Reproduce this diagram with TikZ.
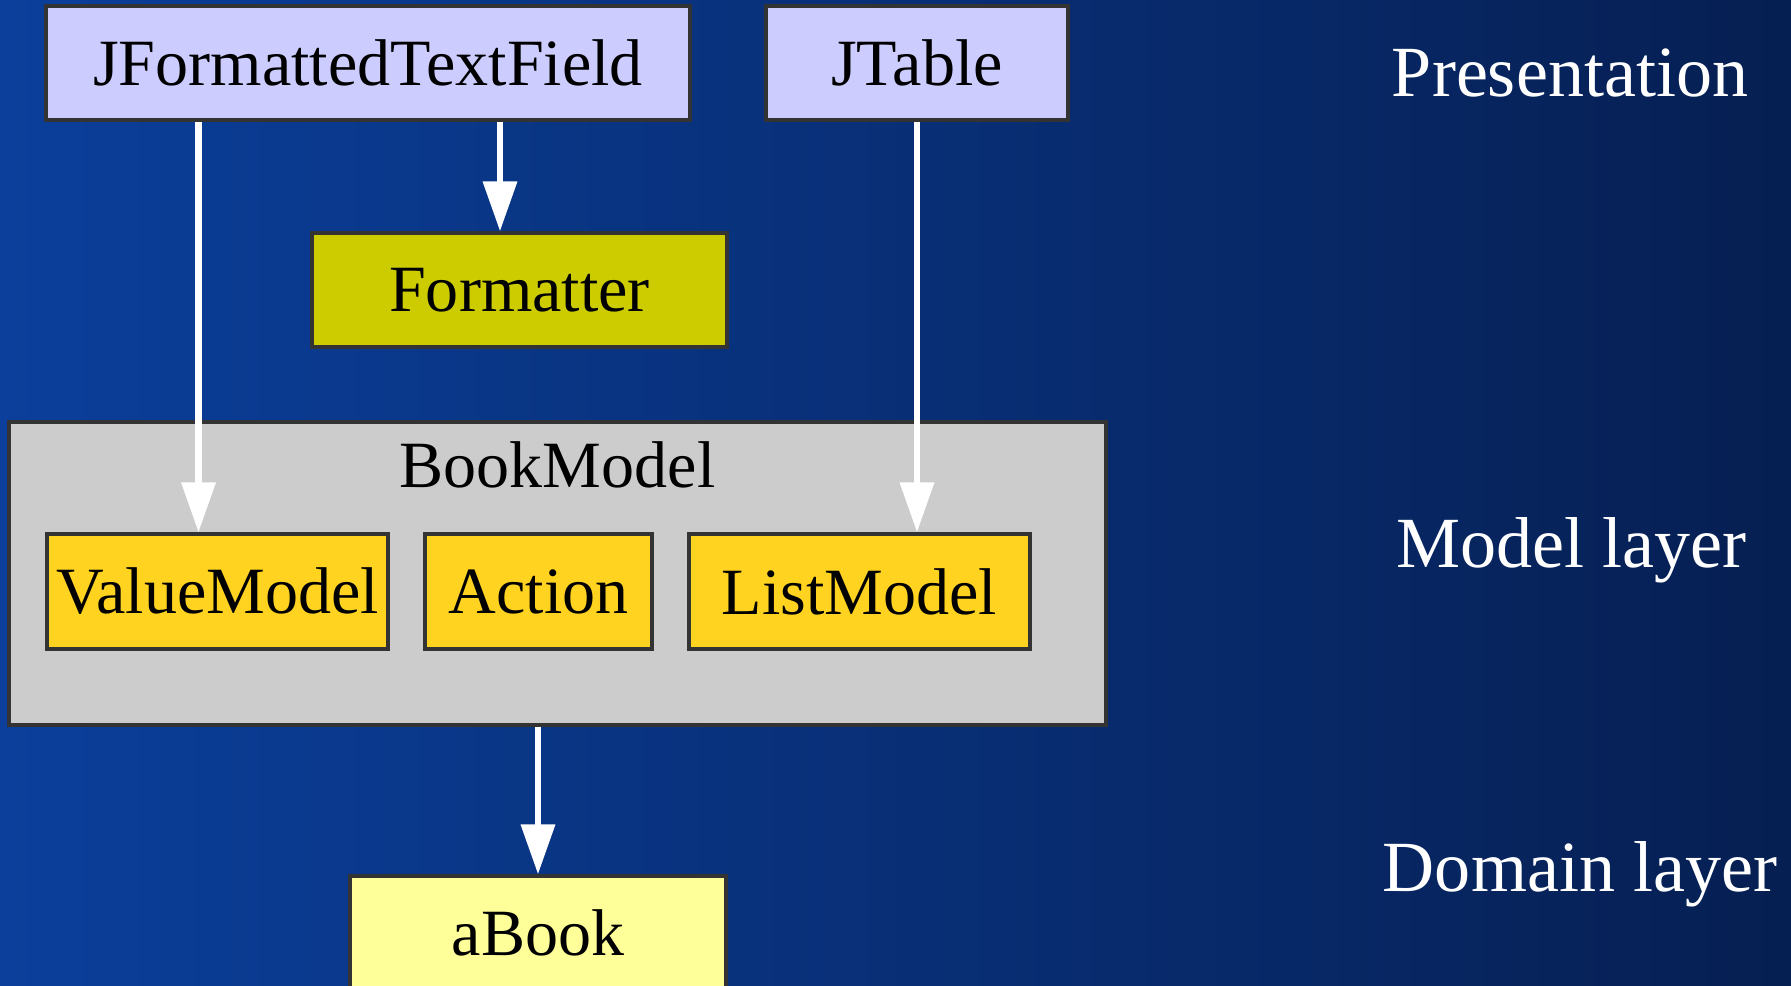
\documentclass[tikz,border=0pt]{standalone}
\usepackage{fontspec}
\setmainfont{Liberation Serif}
\usetikzlibrary{arrows.meta, positioning, calc}

\definecolor{bgleft}{RGB}{11,63,155}
\definecolor{bgright}{RGB}{6,31,82}
\definecolor{viewfill}{RGB}{204,204,255}
\definecolor{fmtfill}{RGB}{204,204,0}
\definecolor{modelfill}{RGB}{204,204,204}
\definecolor{partfill}{RGB}{255,211,32}
\definecolor{domainfill}{RGB}{255,255,153}
\definecolor{edgegray}{RGB}{51,51,51}

\begin{document}
\begin{tikzpicture}
    % Define styles
    \tikzstyle{box} = [rectangle, draw=edgegray, line width=0.9pt, minimum height=1.14cm, inner sep=2pt, font=\fontsize{18.8}{21}\selectfont]
    \tikzstyle{layer} = [anchor=base, text=white, font=\fontsize{20.5}{24}\selectfont]
    \tikzstyle{flow} = [draw=white, line width=1.9pt, -{Triangle[length=0.5cm, width=0.33cm]}]

    % Background
    \useasboundingbox (0,0) rectangle (17.91,-9.85);
    \clip (0,0) rectangle (17.91,-9.85);
    \shade[left color=bgleft, right color=bgright] (0,0) rectangle (17.91,-9.85);

    % Layer labels
    \node[layer] (presentation) at (15.70,-0.97) {Presentation};
    \node[layer] (modellayer) at (15.715,-5.67) {Model layer};
    \node[layer] (domainlayer) at (15.80,-8.91) {Domain layer};

    % Presentation row
    \node[box, fill=viewfill, minimum width=6.44cm] (JFTF) at (3.68,-0.63) {JFormattedTextField};
    \node[box, fill=viewfill, minimum width=3.02cm] (JTable) at (9.17,-0.63) {JTable};
    \node[box, fill=fmtfill, minimum width=4.15cm] (Fmt) at (5.195,-2.90) {Formatter};

    % BookModel container and its parts
    \node[box, fill=modelfill, minimum width=10.97cm, minimum height=3.03cm] (BM) at (5.575,-5.735) {};
    \node[anchor=base, font=\fontsize{18.8}{21}\selectfont] (BMtitle) at ([yshift=-0.67cm]BM.north) {BookModel};
    \node[box, fill=partfill, minimum width=3.41cm, minimum height=1.15cm] (VM) at (2.175,-5.915) {ValueModel};
    \node[box, fill=partfill, minimum width=2.27cm, minimum height=1.15cm] (Act) at (5.385,-5.915) {Action};
    \node[box, fill=partfill, minimum width=3.41cm, minimum height=1.15cm] (LM) at (8.595,-5.915) {ListModel};

    % Domain object
    \node[box, fill=domainfill, minimum width=3.76cm] (aBook) at (5.38,-9.33) {aBook};

    % Connections
    \draw[flow] ([xshift=-0.19cm]VM.north |- JFTF.south) -- ([xshift=-0.19cm]VM.north);
    \draw[flow] ([xshift=-0.195cm]Fmt.north |- JFTF.south) -- ([xshift=-0.195cm]Fmt.north);
    \draw[flow] (JTable.south) -- (JTable.south |- LM.north);
    \draw[flow] (aBook.north |- BM.south) -- (aBook.north);

\end{tikzpicture}
\end{document}
